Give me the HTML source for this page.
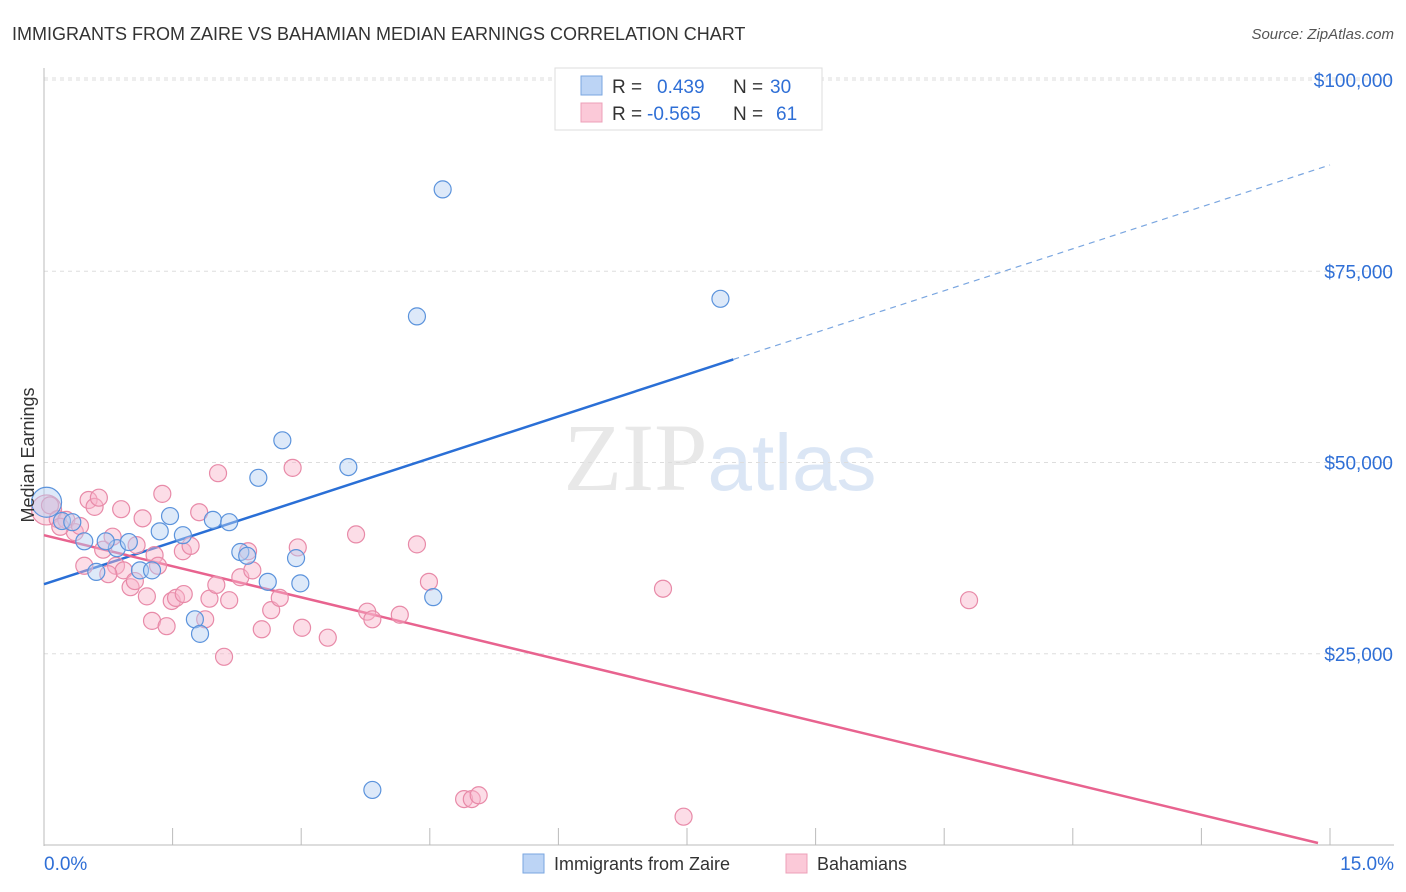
<!DOCTYPE html>
<html><head><meta charset="utf-8"><style>
body{margin:0;background:#fff;font-family:"Liberation Sans",sans-serif;}
svg{display:block}
</style></head><body>
<svg id="chart" width="1406" height="892" viewBox="0 0 1406 892">
<text x="12" y="40" font-size="18" fill="#333">IMMIGRANTS FROM ZAIRE VS BAHAMIAN MEDIAN EARNINGS CORRELATION CHART</text>
<text x="1394" y="39" font-size="15" fill="#555" text-anchor="end" font-style="italic">Source: ZipAtlas.com</text>
<text x="720" y="490" font-size="96" text-anchor="middle" fill="#e8e8e8" font-family="Liberation Serif,serif">ZIP<tspan fill="#dbe6f5" font-family="Liberation Sans,sans-serif" font-size="80">atlas</tspan></text>
<g id="grid"></g>
<g id="axes"></g>
<g id="lines"></g>
<g id="pts"></g>
<text transform="translate(34,455) rotate(-90)" font-size="18" fill="#333" text-anchor="middle">Median Earnings</text>
<g>
<rect x="555" y="68" width="267" height="62" fill="#fff" stroke="#ddd"/>
<rect x="581" y="76" width="21" height="19" fill="#bcd4f5" stroke="#7aa6e0"/>
<rect x="581" y="103" width="21" height="19" fill="#fbc9d8" stroke="#eda0b8"/>
<text x="612" y="93" font-size="19" fill="#333">R = </text><text x="657" y="93" font-size="19" fill="#2f6fd6">0.439</text>
<text x="733" y="93" font-size="19" fill="#333">N = </text><text x="770" y="93" font-size="19" fill="#2f6fd6">30</text>
<text x="612" y="120" font-size="19" fill="#333">R = </text><text x="647" y="120" font-size="19" fill="#2f6fd6">-0.565</text>
<text x="733" y="120" font-size="19" fill="#333">N = </text><text x="776" y="120" font-size="19" fill="#2f6fd6">61</text>
</g>
<g>
<rect x="523" y="854" width="21" height="19" fill="#bcd4f5" stroke="#7aa6e0"/>
<text x="554" y="870" font-size="18" fill="#333">Immigrants from Zaire</text>
<rect x="786" y="854" width="21" height="19" fill="#fbc9d8" stroke="#eda0b8"/>
<text x="817" y="870" font-size="18" fill="#333">Bahamians</text>
</g>
</svg>
<script>
const yTicks=[25000,50000,75000,100000];
const yTickLabels=["$25,000","$50,000","$75,000","$100,000"];
const xTicks=[1.5,3,4.5,6,7.5,9,10.5,12,13.5,15];
const blueX=[0.03,0.21,0.33,0.47,0.61,0.85,0.72,0.99,1.12,1.26,1.35,1.47,1.62,1.76,1.82,1.97,2.16,2.29,2.37,2.50,2.61,2.78,2.94,2.99,3.55,3.83,4.35,4.54,4.65,7.89];
const blueY=[44800,42350,42200,39700,35700,38800,39700,39600,35900,35900,41000,43000,40500,29500,27600,42500,42200,38300,37800,48000,34400,52900,37500,34200,49400,7200,69100,32400,85700,71400];
const pinkX=[0.03,0.07,0.16,0.26,0.36,0.42,0.47,0.52,0.59,0.64,0.69,0.80,0.84,0.90,0.93,1.01,1.06,1.15,1.20,1.26,1.29,1.33,1.38,1.43,1.49,1.54,1.63,1.62,1.71,1.81,1.88,1.93,2.01,2.03,2.10,2.16,2.29,2.38,2.43,2.54,2.65,2.75,2.90,2.96,3.01,3.31,3.64,3.77,3.83,4.15,4.35,4.49,4.90,4.99,5.07,7.22,7.46,10.79,0.75,0.19,1.08];
const pinkY=[43800,44400,42600,42500,40900,41700,36500,45100,44200,45400,38600,40300,36500,43900,35900,33700,34500,42700,32500,29300,37900,36500,45900,28600,31900,32300,32800,38400,39100,43500,29500,32200,34000,48600,24600,32000,35000,38400,35900,28200,30700,32300,49300,38900,28400,27100,40600,30500,29500,30100,39300,34400,6000,6000,6500,33500,3700,32000,35400,41600,39200];
const blueTrend=[34100,3653]; // intercept, slope per %
const pinkTrend=[40500,-2708];
const NS="http://www.w3.org/2000/svg";
const X0=44,X1=1330,Y0=845,Y100=80;
const sx=v=>X0+(X1-X0)*v/15;
const sy=v=>Y0-(Y0-Y100)*v/100000;
function mk(p,t,a){const e=document.createElementNS(NS,t);for(const k in a)e.setAttribute(k,a[k]);p.appendChild(e);return e;}
const grid=document.getElementById('grid'),axes=document.getElementById('axes');
[...yTicks].forEach((t,i)=>{
 const l=mk(grid,'line',{x1:44,x2:1394,y1:sy(t),y2:sy(t),stroke:'#ddd','stroke-dasharray':'4,4'});
 
 
 const tx=mk(axes,'text',{x:1393,y:sy(t)+7,'font-size':19,fill:'#2f6fd6','text-anchor':'end'});
 tx.textContent=yTickLabels[i];
 
 
});
const tl=mk(grid,'line',{x1:44,x2:1394,y1:78,y2:78,stroke:'#ddd','stroke-dasharray':'4,4'});


const ya=mk(axes,'line',{x1:44,x2:44,y1:68,y2:846,stroke:'#bbb'});


const xa=mk(axes,'line',{x1:44,x2:1394,y1:845,y2:845,stroke:'#bbb'});


xTicks.forEach(t=>{const k=mk(axes,'line',{x1:sx(t),x2:sx(t),y1:828,y2:845,stroke:'#bbb'});
 
 });
const xl0=mk(axes,'text',{x:44,y:870,'font-size':19,fill:'#2f6fd6'});xl0.textContent='0.0%';


const xl1=mk(axes,'text',{x:1394,y:870,'font-size':19,fill:'#2f6fd6','text-anchor':'end'});xl1.textContent='15.0%';


const pts=document.getElementById('pts');
function dots(xs,ys,fill,stroke,name){xs.forEach((x,i)=>{const c=mk(pts,'circle',{cx:sx(x),cy:sy(ys[i]),r:i===0?15:8.5,fill:fill,'fill-opacity':0.45,stroke:stroke,'stroke-width':1.2});
 
 });}
dots(pinkX,pinkY,'#f8b4c9','#e88aa8','bahamians-point');
dots(blueX,blueY,'#b4cff2','#5b93dc','zaire-point');
const lines=document.getElementById('lines');
const f=(tr,x)=>tr[0]+tr[1]*x;
const b1=mk(lines,'line',{x1:sx(0),y1:sy(f(blueTrend,0)),x2:sx(8.04),y2:sy(f(blueTrend,8.04)),stroke:'#2a6fd6','stroke-width':2.5});


const b2=mk(lines,'line',{x1:sx(8.04),y1:sy(f(blueTrend,8.04)),x2:sx(15),y2:sy(f(blueTrend,15)),stroke:'#7aa6e0','stroke-width':1.2,'stroke-dasharray':'6,5'});


const p1=mk(lines,'line',{x1:sx(0),y1:sy(f(pinkTrend,0)),x2:sx(14.86),y2:sy(f(pinkTrend,14.86)),stroke:'#e8638f','stroke-width':2.5});


</script>
</body></html>
